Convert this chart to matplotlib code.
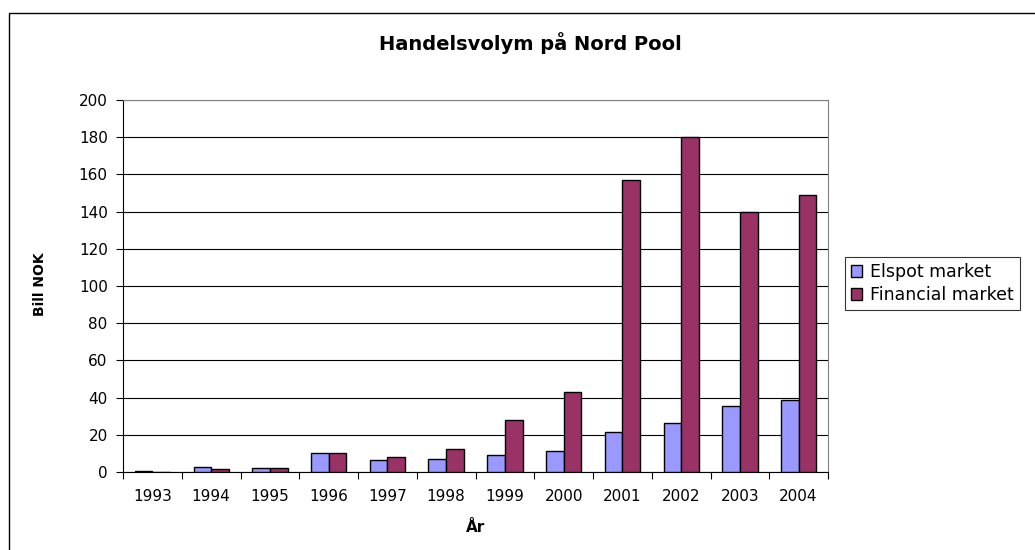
import matplotlib
matplotlib.use("Agg")
import matplotlib.pyplot as plt
import numpy as np
from matplotlib.patches import Rectangle

years = ["1993", "1994", "1995", "1996", "1997", "1998", "1999", "2000", "2001", "2002", "2003", "2004"]
elspot = [0.6, 2.5, 2.0, 10.4, 6.3, 6.8, 9.0, 11.1, 21.3, 26.3, 35.3, 38.7]
financial = [0.0, 1.4, 2.0, 10.4, 8.2, 12.4, 27.8, 42.8, 157.0, 180.0, 139.6, 148.7]

plt.rcParams['font.family'] = ['DejaVu Sans']

fig = plt.figure(figsize=(10.35, 5.5), dpi=100)
fig.patch.set_facecolor('white')

# outer chart frame
fig.patches.append(Rectangle((9/1035, -0.1), 1.2, (550-13)/550 + 0.1, transform=fig.transFigure,
                             fill=False, edgecolor='black', linewidth=1.0))

ax = fig.add_axes([123/1035, 78/550, 705/1035, 372/550])
x = np.arange(len(years))
w = 0.3
ax.bar(x - w/2, elspot, w, color='#9999FF', edgecolor='black', linewidth=1.0, label='Elspot market', zorder=3)
ax.bar(x + w/2, financial, w, color='#993366', edgecolor='black', linewidth=1.0, label='Financial market', zorder=3)

ax.set_xlim(-0.5, len(years) - 0.5)
ax.set_ylim(0, 200)
ax.set_yticks(np.arange(0, 201, 20))
ax.yaxis.grid(True, color='black', linewidth=0.8, zorder=0)
ax.set_axisbelow(True)

ax.set_xticks(x)
ax.set_xticklabels(years, fontsize=11)
ax.set_xticks(np.arange(-0.5, len(years), 1), minor=True)
ax.tick_params(axis='x', which='major', length=0, pad=12)
ax.tick_params(axis='x', which='minor', length=5, direction='out', width=0.8)
ax.tick_params(axis='y', length=5, direction='out', width=0.8, labelsize=11, pad=6)

for s in ['top', 'right']:
    ax.spines[s].set_color('#808080')
    ax.spines[s].set_linewidth(0.8)
ax.spines['left'].set_color('black')
ax.spines['bottom'].set_color('black')

fig.text(476/1035, 1 - 528/550, 'År', ha='center', va='center', fontsize=11, fontweight='bold')
fig.text(40/1035, 1 - 284/550, 'Bill NOK', ha='center', va='center', fontsize=10,
         fontweight='bold', rotation=90)

fig.text(530/1035, 1 - 43/550, 'Handelsvolym på Nord Pool', ha='center', va='center',
         fontsize=14, fontweight='bold')

leg = fig.legend(loc='upper left', bbox_to_anchor=(845/1035, 1 - 257/550), fontsize=12.5,
                 frameon=True, fancybox=False, edgecolor='black', handlelength=0.65, handleheight=0.65,
                 handletextpad=0.45, borderpad=0.35, labelspacing=0.3, borderaxespad=0)
leg.get_frame().set_linewidth(0.8)

fig.savefig('out.png', dpi=100)
